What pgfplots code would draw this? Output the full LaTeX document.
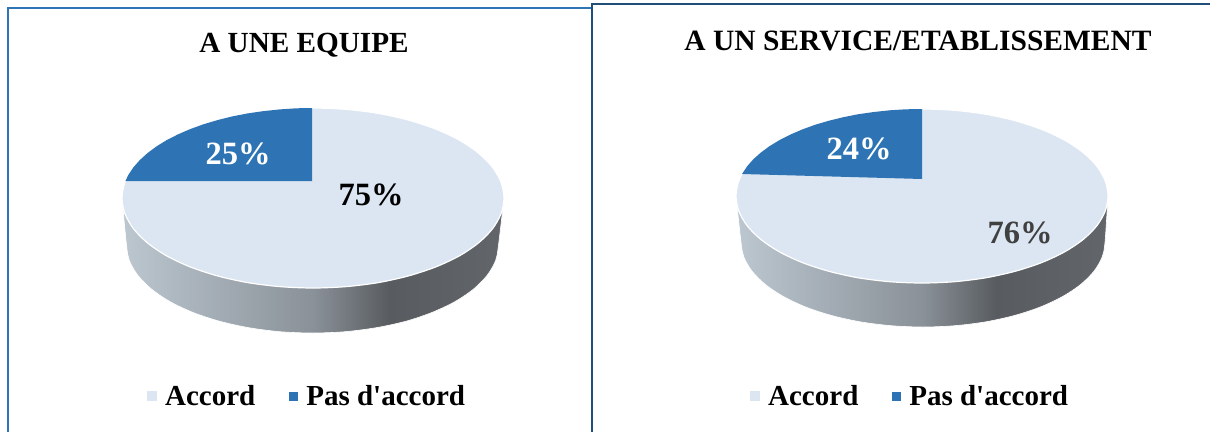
\documentclass[border=0pt]{standalone}
\usepackage{fontspec}
\setmainfont{Liberation Serif}
\usepackage{pgfplots}
\pgfplotsset{compat=1.18}

\definecolor{lightc}{HTML}{DCE6F2}
\definecolor{bluec}{HTML}{2E74B5}
\definecolor{frameL}{HTML}{2E75B6}
\definecolor{frameR}{HTML}{1F4E79}
\definecolor{wall0}{HTML}{BCC7D0}
\definecolor{wall1}{HTML}{8A9198}
\definecolor{wall2}{HTML}{585C60}
\definecolor{wall3}{HTML}{62666A}
\pgfdeclarehorizontalshading{wall}{100bp}{
  color(0bp)=(wall0); color(25bp)=(wall0); color(50bp)=(wall1);
  color(60bp)=(wall2); color(75bp)=(wall3); color(100bp)=(wall3)}

\pgfplotsset{
  panel/.style={
    x=1pt, y=1pt, xmin=0, xmax=1210, ymin=0, ymax=432, y dir=reverse,
    hide axis, scale only axis,
    legend columns=2,
    legend style={draw=none, fill=none, anchor=center,
      font=\fontsize{29}{30}\selectfont\bfseries,
      /tikz/every odd column/.append style={column sep=6pt},
      /tikz/every even column/.append style={column sep=32pt}},
    legend cell align=left,
  },
  lightkey/.style={legend image code/.code={\fill[lightc] (-2pt,-4.5pt) rectangle (7pt,4.5pt);}},
  bluekey/.style={legend image code/.code={\fill[bluec] (-2pt,-4.5pt) rectangle (7pt,4.5pt);}},
}

\begin{document}
\begin{tikzpicture}
% left panel
\begin{axis}[panel, legend style={at={(axis cs:307,396)}}]
\path (axis cs:0,0) rectangle (axis cs:1210,432);
\addplot[forget plot, frameL, line width=2.2pt] coordinates {(8,432) (8,8) (592,8)};
\addplot[forget plot, smooth, shading=wall, draw=white, line width=0.6pt] coordinates {
(122,198) (126.5,245) (129.3,260.3) (137.7,275.1) (151.4,289) (170,301.6) (192.9,312.4) (219.5,321.2) (248.9,327.7) (280.2,331.7) (312.5,333)
(344.8,331.7) (376.1,327.7) (406,321.2) (432.1,312.4) (455,301.6) (473.6,289) (487.3,275.1) (495.7,260.3) (498.5,245) (504,198)};
\addplot[lightkey, smooth cycle, fill=lightc, draw=white, line width=1.2pt] coordinates {
(504,198) (501.1,182.4) (492.5,167.2) (478.4,153) (459.3,140.1) (435.8,129.1) (408.5,120.1) (378.3,113.4) (346.2,109.4) (313,108)
(279.8,109.4) (247.7,113.4) (217.5,120.1) (190.2,129.1) (166.7,140.1) (147.6,153) (133.5,167.2) (124.9,182.4) (122,198)
(124.9,213.6) (133.5,228.8) (147.6,243) (166.7,255.9) (190.2,266.9) (217.5,275.9) (247.7,282.6) (279.8,286.6) (313,288)
(346.2,286.6) (378.3,282.6) (408.5,275.9) (435.8,266.9) (459.3,255.9) (478.4,243) (492.5,228.8) (501.1,213.6)};
\addlegendentry{Accord}
\addplot[bluekey, fill=bluec, draw=none] coordinates {
(312,181) (312,108) (296.3,108.3) (279.8,109.4) (263.6,111.1) (247.7,113.4) (232.3,116.4) (217.5,120.1) (203.4,124.3) (190.2,129.1)
(177.9,134.4) (166.7,140.1) (156.5,146.4) (147.6,153) (139.9,160) (133.5,167.2) (128.5,174.7) (125.4,181)} -- cycle;
\addlegendentry{Pas d\textquotesingle accord}
\node[font=\fontsize{29.2}{30}\selectfont\bfseries] at (axis cs:304,45) {A UNE EQUIPE};
\node[font=\fontsize{32.5}{33}\selectfont\bfseries, white] at (axis cs:238,154) {25\%};
\node[font=\fontsize{32.5}{33}\selectfont\bfseries, black] at (axis cs:371,195) {75\%};
\end{axis}
% right panel
\begin{axis}[panel, legend style={at={(axis cs:910,396)}}]
\addplot[forget plot, frameR, line width=2.2pt] coordinates {(592,432) (592,4) (1210,4)};
\addplot[forget plot, smooth, shading=wall, draw=white, line width=0.6pt] coordinates {
(736,196) (741,242) (743.8,256.8) (752,271.1) (765.4,284.5) (783.6,296.6) (806,307.1) (832,315.6) (860.8,321.9) (891.4,325.7) (923,327)
(954.6,325.7) (985.2,321.9) (1014,315.6) (1040,307.1) (1062.4,296.6) (1080.6,284.5) (1094,271.1) (1102.2,256.8) (1105,242) (1108,196)};
\addplot[lightkey, smooth cycle, fill=lightc, draw=white, line width=1.2pt] coordinates {
(1108,196) (1105.2,180.9) (1096.8,166.2) (1083.1,152.5) (1064.5,140.1) (1041.6,129.4) (1015,120.7) (985.6,114.2) (954.3,110.3) (922,109)
(889.7,110.3) (858.4,114.2) (829,120.7) (802.4,129.4) (779.5,140.1) (760.9,152.5) (747.2,166.2) (738.8,180.9) (736,196)
(738.8,211.1) (747.2,225.8) (760.9,239.5) (779.5,251.9) (802.4,262.6) (829,271.3) (858.4,277.8) (889.7,281.7) (922,283)
(954.3,281.7) (985.6,277.8) (1015,271.3) (1041.6,262.6) (1064.5,251.9) (1083.1,239.5) (1096.8,225.8) (1105.2,211.1)};
\addlegendentry{Accord}
\addplot[bluekey, fill=bluec, draw=none] coordinates {
(922,179) (922,109) (905.8,109.3) (889.7,110.3) (873.9,112) (858.4,114.2) (843.4,117.2) (829,120.7) (815.3,124.7) (802.4,129.4)
(790.5,134.5) (779.5,140.1) (769.6,146.1) (760.9,152.5) (753.4,159.2) (747.2,166.2) (742,174)} -- cycle;
\addlegendentry{Pas d\textquotesingle accord}
\node[font=\fontsize{29.5}{30}\selectfont\bfseries] at (axis cs:918,41) {A UN SERVICE/ETABLISSEMENT};
\node[font=\fontsize{32.5}{33}\selectfont\bfseries, white] at (axis cs:859,149) {24\%};
\node[font=\fontsize{32.5}{33}\selectfont\bfseries, black!75] at (axis cs:1020,233) {76\%};
\end{axis}
\end{tikzpicture}
\end{document}
